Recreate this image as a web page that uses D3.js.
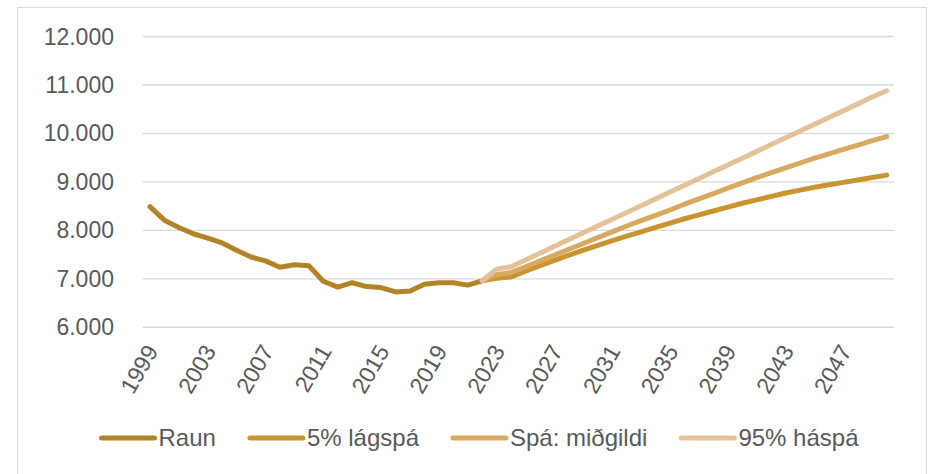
<!DOCTYPE html>
<html>
<head>
<meta charset="utf-8">
<script src="https://cdn.jsdelivr.net/npm/d3@7"></script>
<style>
  body { margin: 0; background: #fff; }
  text { font-family: "Liberation Sans", Arial, sans-serif; fill: #595959; }
</style>
</head>
<body>
<svg width="928" height="474"></svg>
<script>
// years on the category axis
var years = [1999, 2000, 2001, 2002, 2003, 2004, 2005, 2006, 2007, 2008, 2009, 2010,
  2011, 2012, 2013, 2014, 2015, 2016, 2017, 2018, 2019, 2020, 2021, 2022,
  2023, 2024, 2025, 2026, 2027, 2028, 2029, 2030, 2031, 2032, 2033, 2034,
  2035, 2036, 2037, 2038, 2039, 2040, 2041, 2042, 2043, 2044, 2045, 2046,
  2047, 2048, 2049, 2050];

var tickYears = [1999, 2003, 2007, 2011, 2015, 2019, 2023, 2027, 2031, 2035, 2039, 2043, 2047];
var yTicks = [6000, 7000, 8000, 9000, 10000, 11000, 12000];

// Raun 1999 - 2022
var raun = [8490, 8210, 8060, 7930, 7840, 7740, 7590, 7450, 7370, 7240, 7290, 7270,
  6950, 6830, 6920, 6840, 6820, 6730, 6750, 6890, 6920, 6920, 6870, 6960];

// forecasts 2022 - 2050
var lag = [6960, 7010, 7040, 7160, 7270, 7380, 7490, 7590, 7690, 7790, 7880, 7970,
  8060, 8150, 8240, 8320, 8400, 8480, 8560, 8630, 8700, 8770, 8830, 8890,
  8940, 8990, 9040, 9090, 9140];
var mid = [6960, 7090, 7130, 7250, 7370, 7490, 7610, 7730, 7850, 7970, 8090, 8200,
  8310, 8420, 8540, 8650, 8760, 8870, 8980, 9090, 9190, 9290, 9390, 9490,
  9580, 9670, 9760, 9850, 9935];
var hai = [6960, 7200, 7250, 7390, 7530, 7670, 7810, 7950, 8090, 8230, 8370, 8510,
  8650, 8790, 8930, 9070, 9210, 9350, 9490, 9630, 9770, 9910, 10050, 10190,
  10330, 10470, 10610, 10750, 10880];

var seriesNames = ["Raun", "5% lágspá", "Spá: miðgildi", "95% háspá"];
var colors = ["#B38427", "#C99530", "#D8A960", "#E3C298"];

var svg = d3.select("svg");

// frame
svg.append("rect")
  .attr("x", 17.5).attr("y", 7.5)
  .attr("width", 909).attr("height", 480)
  .attr("fill", "none")
  .attr("stroke", "#D9D9D9")
  .attr("stroke-width", 1);

var x = d3.scaleBand()
  .domain(years)
  .range([142.7, 894])
  .padding(0);

var y = d3.scaleLinear()
  .domain([6000, 12000])
  .range([327.3, 36.5]);

var fmt = function(v) { return d3.format(",.3f")(v / 1000).replace(",", "."); };

// gridlines
svg.append("g").selectAll("line")
  .data(yTicks)
  .enter()
  .append("line")
  .attr("x1", 142.7)
  .attr("x2", 894)
  .attr("y1", function(d) { return y(d); })
  .attr("y2", function(d) { return y(d); })
  .attr("stroke", "#D9D9D9")
  .attr("stroke-width", 1.4);

// y labels
svg.append("g").selectAll("text")
  .data(yTicks)
  .enter()
  .append("text")
  .attr("x", 114)
  .attr("y", function(d) { return y(d); })
  .attr("dy", "0.35em")
  .attr("text-anchor", "end")
  .style("font-size", "23px")
  .text(function(d) { return fmt(d); });

// x labels, rotated
svg.append("g").selectAll("text")
  .data(tickYears)
  .enter()
  .append("text")
  .attr("transform", function(d) {
    return "translate(" + (x(d) + x.bandwidth() / 2 + 2) + ",347) rotate(-60)";
  })
  .attr("text-anchor", "end")
  .attr("dy", "0.35em")
  .style("font-size", "23px")
  .text(function(d) { return d; });

var cx = function(yr) { return x(yr) + x.bandwidth() / 2; };

var line = d3.line()
  .x(function(d) { return cx(d[0]); })
  .y(function(d) { return y(d[1]); });

var raunPts = raun.map(function(v, i) { return [years[i], v]; });
var fcYears = years.slice(23);
var series = [
  raunPts,
  lag.map(function(v, i) { return [fcYears[i], v]; }),
  mid.map(function(v, i) { return [fcYears[i], v]; }),
  hai.map(function(v, i) { return [fcYears[i], v]; })
];

svg.append("g").selectAll("path")
  .data(series)
  .enter()
  .append("path")
  .attr("d", line)
  .attr("fill", "none")
  .attr("stroke", function(d, i) { return colors[i]; })
  .attr("stroke-width", 5)
  .attr("stroke-linejoin", "round")
  .attr("stroke-linecap", "round");

// legend
var legend = svg.append("g");
var items = legend.selectAll("g")
  .data(seriesNames)
  .enter()
  .append("g");

items.append("line")
  .attr("x1", 0).attr("x2", 53)
  .attr("y1", 0).attr("y2", 0)
  .attr("stroke", function(d, i) { return colors[i]; })
  .attr("stroke-width", 5)
  .attr("stroke-linecap", "round");

items.append("text")
  .attr("x", 57)
  .attr("dy", "0.35em")
  .style("font-size", "24px")
  .text(function(d) { return d; });

var offset = 0;
items.each(function() {
  var g = d3.select(this);
  g.attr("transform", "translate(" + offset + ",0)");
  offset += 57 + g.select("text").node().getComputedTextLength() + 34;
});
var total = offset - 34;
legend.attr("transform", "translate(" + (480 - total / 2) + ",438)");
</script>
</body>
</html>
